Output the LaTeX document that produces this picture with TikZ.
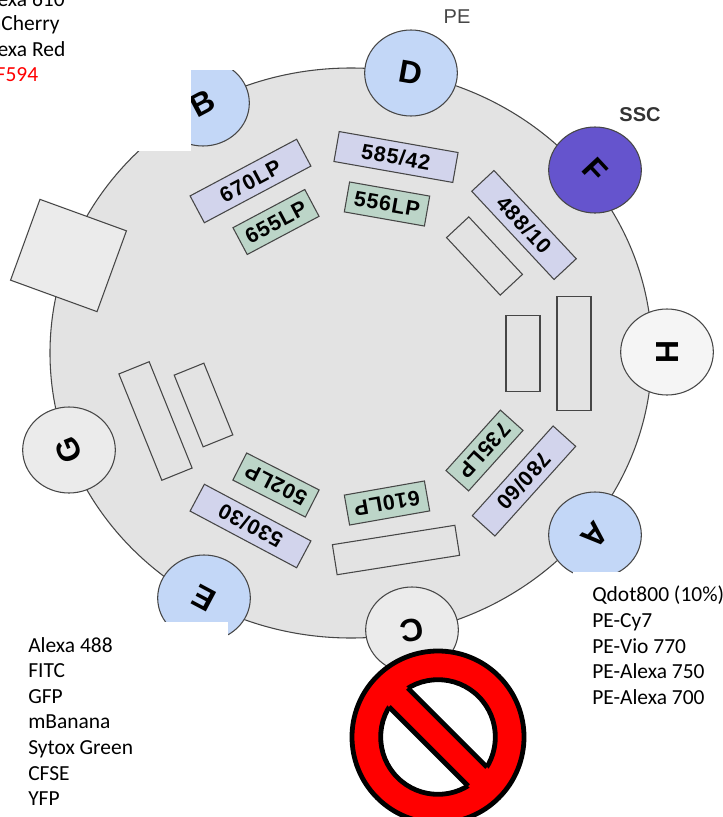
\documentclass[tikz,border=0pt]{standalone}
\usepackage{fontspec}
\setmainfont{Liberation Sans}
\newfontfamily\labelfont{Carlito}
\usetikzlibrary{shapes.geometric}
\definecolor{discGray}{RGB}{227,227,227}
\definecolor{edgeGray}{RGB}{70,70,70}
\definecolor{portBlue}{RGB}{195,215,247}
\definecolor{portPurple}{RGB}{101,84,205}
\definecolor{portGray}{RGB}{235,235,235}
\definecolor{bpLavender}{RGB}{210,212,236}
\definecolor{lpGreen}{RGB}{188,213,200}
\tikzset{
    port/.style={ellipse,draw=edgeGray,line width=0.8pt,minimum width=69.5pt,minimum height=64.5pt,inner sep=0pt},
    portletter/.style={inner sep=0pt,font=\fontsize{24}{26}\selectfont\bfseries},
    filterbox/.style={rectangle,draw=edgeGray,line width=0.8pt,minimum height=22.8pt,inner sep=0pt,font=\fontsize{16}{18}\selectfont\bfseries\addfontfeatures{LetterSpace=4}},
    bandpass/.style={filterbox,fill=bpLavender,minimum width=90.5pt},
    longpass/.style={filterbox,fill=lpGreen,minimum width=61pt},
    blank/.style={filterbox,draw=edgeGray},
    fluor/.style={anchor=north west,inner sep=0pt,align=left,font=\labelfont\fontsize{16.1}{19.2}\selectfont},
    mask/.style={fill=white,draw=none}
}
\begin{document}
\begin{tikzpicture}[x=0.75pt,y=-0.75pt]
    \useasboundingbox (0,0) rectangle (723,817);
    \clip (0,0) rectangle (723,817);

    \node[ellipse,draw=edgeGray,line width=0.8pt,fill=discGray,minimum width=451.5pt,minimum height=427.5pt,inner sep=0pt] (disc) at (351,353) {};

    % ports round the rim
    \node[port,fill=portBlue,label={[portletter,rotate=28]center:B}] (portB) at (203,103) {};
    \node[port,fill=portBlue,label={[portletter,rotate=-10]center:D}] (portD) at (411,73) {};
    \node[port,fill=portPurple,label={[portletter,rotate=-47]center:F}] (portF) at (595,170) {};
    \node[port,fill=portGray!50!white,label={[portletter,rotate=-90]center:H}] (portH) at (667,352) {};
    \node[port,fill=portBlue,label={[portletter,rotate=228]center:A}] (portA) at (595,535) {};
    \node[port,fill=portGray,label={[portletter,rotate=190]center:C}] (portC) at (412,630) {};
    \node[port,fill=portBlue,label={[portletter,rotate=152]center:E}] (portE) at (204,598) {};
    \node[port,fill=portGray,label={[portletter,rotate=112]center:G}] (portG) at (69,450) {};

    % white patches over the picture
    \fill[mask] (0,0) rectangle (191,151);
    \fill[mask] (191,0) rectangle (260,70);
    \fill[mask] (573,572) rectangle (723,817);
    \fill[mask] (0,622) rectangle (228,817);

    \node[bandpass,rotate=28] (bp670) at (250.5,181) {670LP};
    \node[longpass,rotate=28] (lp655) at (276,222) {655LP};
    \node[bandpass,rotate=-10] (bp585) at (396,157) {585/42};
    \node[longpass,rotate=-10] (lp556) at (387,204) {556LP};
    \node[bandpass,rotate=-47] (bp488) at (524,225) {488/10};
    \node[bandpass,rotate=228] (bp780) at (524,481) {780/60};
    \node[longpass,rotate=228] (lp735) at (484.5,450.5) {735LP};
    \node[longpass,rotate=190] (lp610) at (387,503) {610LP};
    \node[bandpass,rotate=152] (bp530) at (250.5,526) {530/30};
    \node[longpass,rotate=153] (lp502) at (276,485) {502LP};

    \node[blank,minimum width=59pt,rotate=-47] (blankF) at (484.5,256) {};
    \node[blank,minimum width=86pt,minimum height=25.5pt,rotate=-90] (blankHa) at (574,353.5) {};
    \node[blank,minimum width=57.5pt,minimum height=25.5pt,rotate=-90] (blankHb) at (523,353.5) {};
    \node[blank,minimum width=93pt,rotate=9] (blankC) at (396,550) {};
    \node[blank,minimum width=86pt,minimum height=24.5pt,rotate=-68] (blankGa) at (155.5,421) {};
    \node[blank,minimum width=58pt,minimum height=24pt,rotate=-68] (blankGb) at (203.5,405) {};
    \node[blank,fill=portGray,minimum width=69pt,minimum height=64.5pt,rotate=-20] (blankB) at (68.5,255.5) {};

    \node[font=\fontsize{15}{17}\selectfont,text=edgeGray] (labelPE) at (457,17) {PE};
    \node[font=\fontsize{15}{17}\selectfont\bfseries,text=black!80] (labelSSC) at (640,115) {SSC};

    % dye lists
    \node[fluor] (dyeTa) at (-20,-9) {Alexa 610};
    \node[fluor] (dyeTb) at (-16,15) {mCherry};
    \node[fluor] (dyeTc) at (-20,41) {Alexa Red};
    \node[fluor,text=red] (dyeTd) at (-16,67) {CF594};
    \node[fluor] (dyeE) at (28,637) {Alexa 488\\FITC\\GFP\\mBanana\\Sytox Green\\CFSE\\YFP};
    \node[fluor] (dyeA) at (592,586) {Qdot800 (10\%)\\PE-Cy7\\PE-Vio 770\\PE-Alexa 750\\PE-Alexa 700};

    % no-entry sign
    \begin{scope}[shift={(438,737)},rotate=-45]
        \draw[line width=3.6pt,fill=red] (0,0) circle (64.5pt);
        \draw[line width=3.6pt,fill=white] (0,0) circle (43pt);
        \fill[red] (-47pt,-10pt) rectangle (47pt,10pt);
        \draw[line width=3.6pt] (-42pt,10pt) -- (42pt,10pt);
        \draw[line width=3.6pt] (-42pt,-10pt) -- (42pt,-10pt);
    \end{scope}
\end{tikzpicture}
\end{document}
